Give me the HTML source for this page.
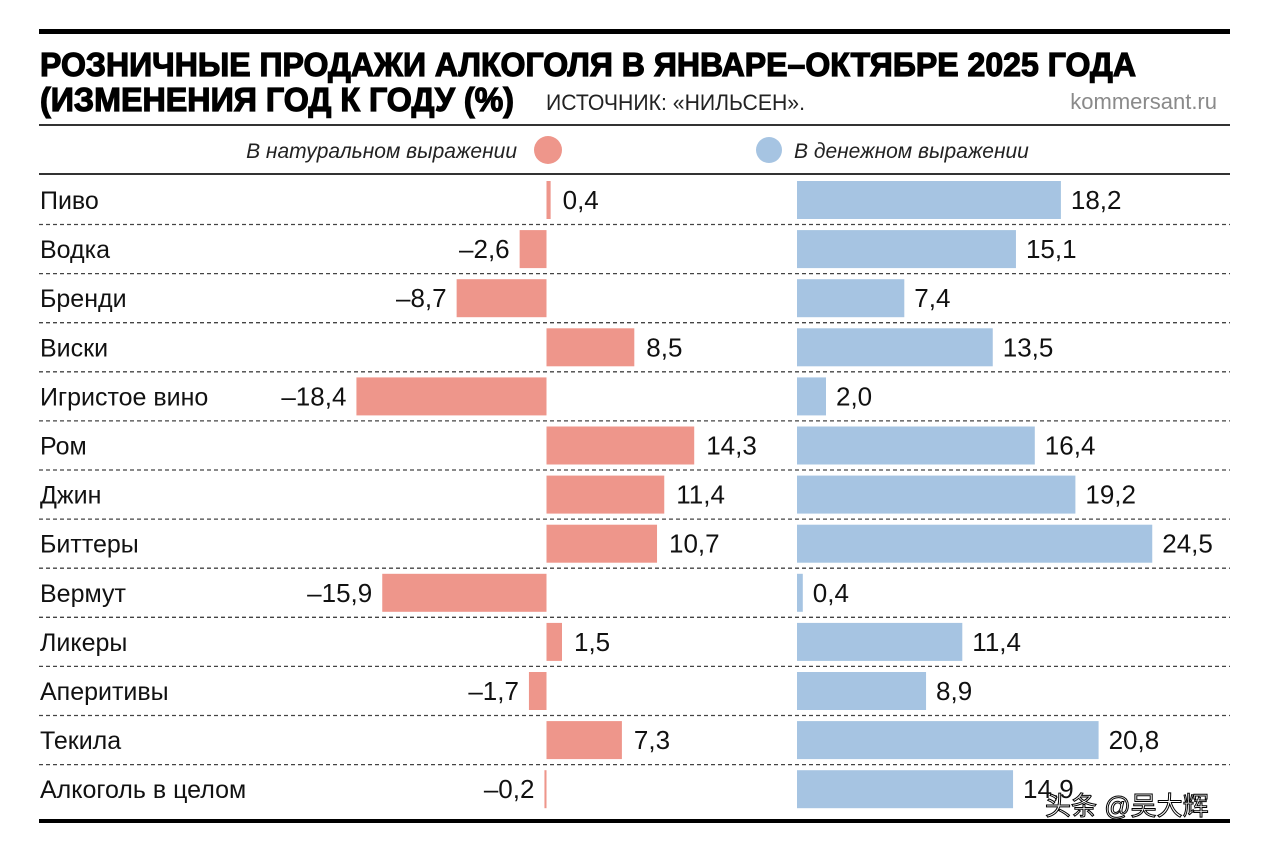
<!DOCTYPE html>
<html><head><meta charset="utf-8"><style>
html,body{margin:0;padding:0;background:#fff}
svg{display:block}
text{font-family:"Liberation Sans Narrow","Liberation Sans",sans-serif}
</style></head><body>
<svg id="chart" width="1280" height="851" viewBox="0 0 1280 851" xmlns="http://www.w3.org/2000/svg">
<rect x="39" y="29" width="1191" height="5" fill="#000"/>
<text x="40" y="76" font-size="33" font-weight="bold" textLength="1096" lengthAdjust="spacingAndGlyphs" fill="#000" stroke="#000" stroke-width="1.2" style="font-family:'Liberation Sans',sans-serif">РОЗНИЧНЫЕ ПРОДАЖИ АЛКОГОЛЯ В ЯНВАРЕ–ОКТЯБРЕ 2025 ГОДА</text>
<text x="40" y="111" font-size="33" font-weight="bold" textLength="474" lengthAdjust="spacingAndGlyphs" fill="#000" stroke="#000" stroke-width="1.2" style="font-family:'Liberation Sans',sans-serif">(ИЗМЕНЕНИЯ ГОД К ГОДУ (%)</text>
<text x="546" y="110" font-size="22" textLength="259" lengthAdjust="spacingAndGlyphs" fill="#222">ИСТОЧНИК: «НИЛЬСЕН».</text>
<text x="1217" y="109" font-size="22" text-anchor="end" fill="#8a8a8a">kommersant.ru</text>
<rect x="39" y="124" width="1191" height="2" fill="#333"/>
<text x="517" y="158" font-size="21" font-style="italic" text-anchor="end" fill="#222">В натуральном выражении</text>
<circle cx="548" cy="150" r="14" fill="#ee968b"/>
<circle cx="769" cy="150" r="13" fill="#a6c4e2"/>
<text x="794" y="158" font-size="21" font-style="italic" fill="#222">В денежном выражении</text>
<rect x="39" y="173" width="1191" height="2" fill="#333"/>
<g id="rows"></g>
<rect x="39" y="819" width="1191" height="4" fill="#000"/>
<text x="1045" y="815" font-size="26" fill="#fff" stroke="#000" stroke-width="1" style="font-family:'Liberation Sans','Noto Sans CJK SC',sans-serif">头条 @吴大辉</text>
</svg>
<script>
const categories=["Пиво","Водка","Бренди","Виски","Игристое вино","Ром","Джин","Биттеры","Вермут","Ликеры","Аперитивы","Текила","Алкоголь в целом"];
const volumeValues=[0.4,-2.6,-8.7,8.5,-18.4,14.3,11.4,10.7,-15.9,1.5,-1.7,7.3,-0.2];
const moneyValues=[18.2,15.1,7.4,13.5,2.0,16.4,19.2,24.5,0.4,11.4,8.9,20.8,14.9];
const NS="http://www.w3.org/2000/svg";
const g=document.getElementById('rows');
const xVol=v=>546.5+v*10.33;
const xMon=v=>797+v*14.5;
const rowY=i=>181+i*49.1;
const fmt=v=>(v<0?"–":"")+Math.abs(v).toFixed(1).replace('.',',');
function mk(tag,attrs){const e=document.createElementNS(NS,tag);for(const k in attrs)e.setAttribute(k,attrs[k]);return e;}
categories.forEach((c,i)=>{
  const y=rowY(i),h=38,cy=y+h/2+9;
  const t=mk('text',{x:40,y:cy,'font-size':25,fill:'#111'});
  t.textContent=c;
  
  
  g.appendChild(t);
  const v=volumeValues[i];
  const x0=Math.min(xVol(0),xVol(v)),w=Math.max(Math.abs(xVol(v)-xVol(0)),1.5);
  const b=mk('rect',{x:x0,y:y,width:w,height:h,fill:'#ee968b'});
  
  
  g.appendChild(b);
  const vt=mk('text',{x:v<0?x0-10:x0+w+12,y:cy,'font-size':26,fill:'#111','text-anchor':v<0?'end':'start'});
  vt.textContent=fmt(v);
  
  
  g.appendChild(vt);
  const m=moneyValues[i];
  const mw=Math.max(xMon(m)-xMon(0),1.5);
  const mb=mk('rect',{x:xMon(0),y:y,width:mw,height:h,fill:'#a6c4e2'});
  
  
  g.appendChild(mb);
  const mt=mk('text',{x:xMon(0)+mw+10,y:cy,'font-size':26,fill:'#111'});
  mt.textContent=fmt(m);
  
  
  g.appendChild(mt);
  if(i<categories.length-1){
    const l=mk('line',{x1:39,x2:1230,y1:y+h+5.5,y2:y+h+5.5,stroke:'#444','stroke-width':1.3,'stroke-dasharray':'4 3'});
    
    
    g.appendChild(l);
  }
});
</script>
</body></html>
